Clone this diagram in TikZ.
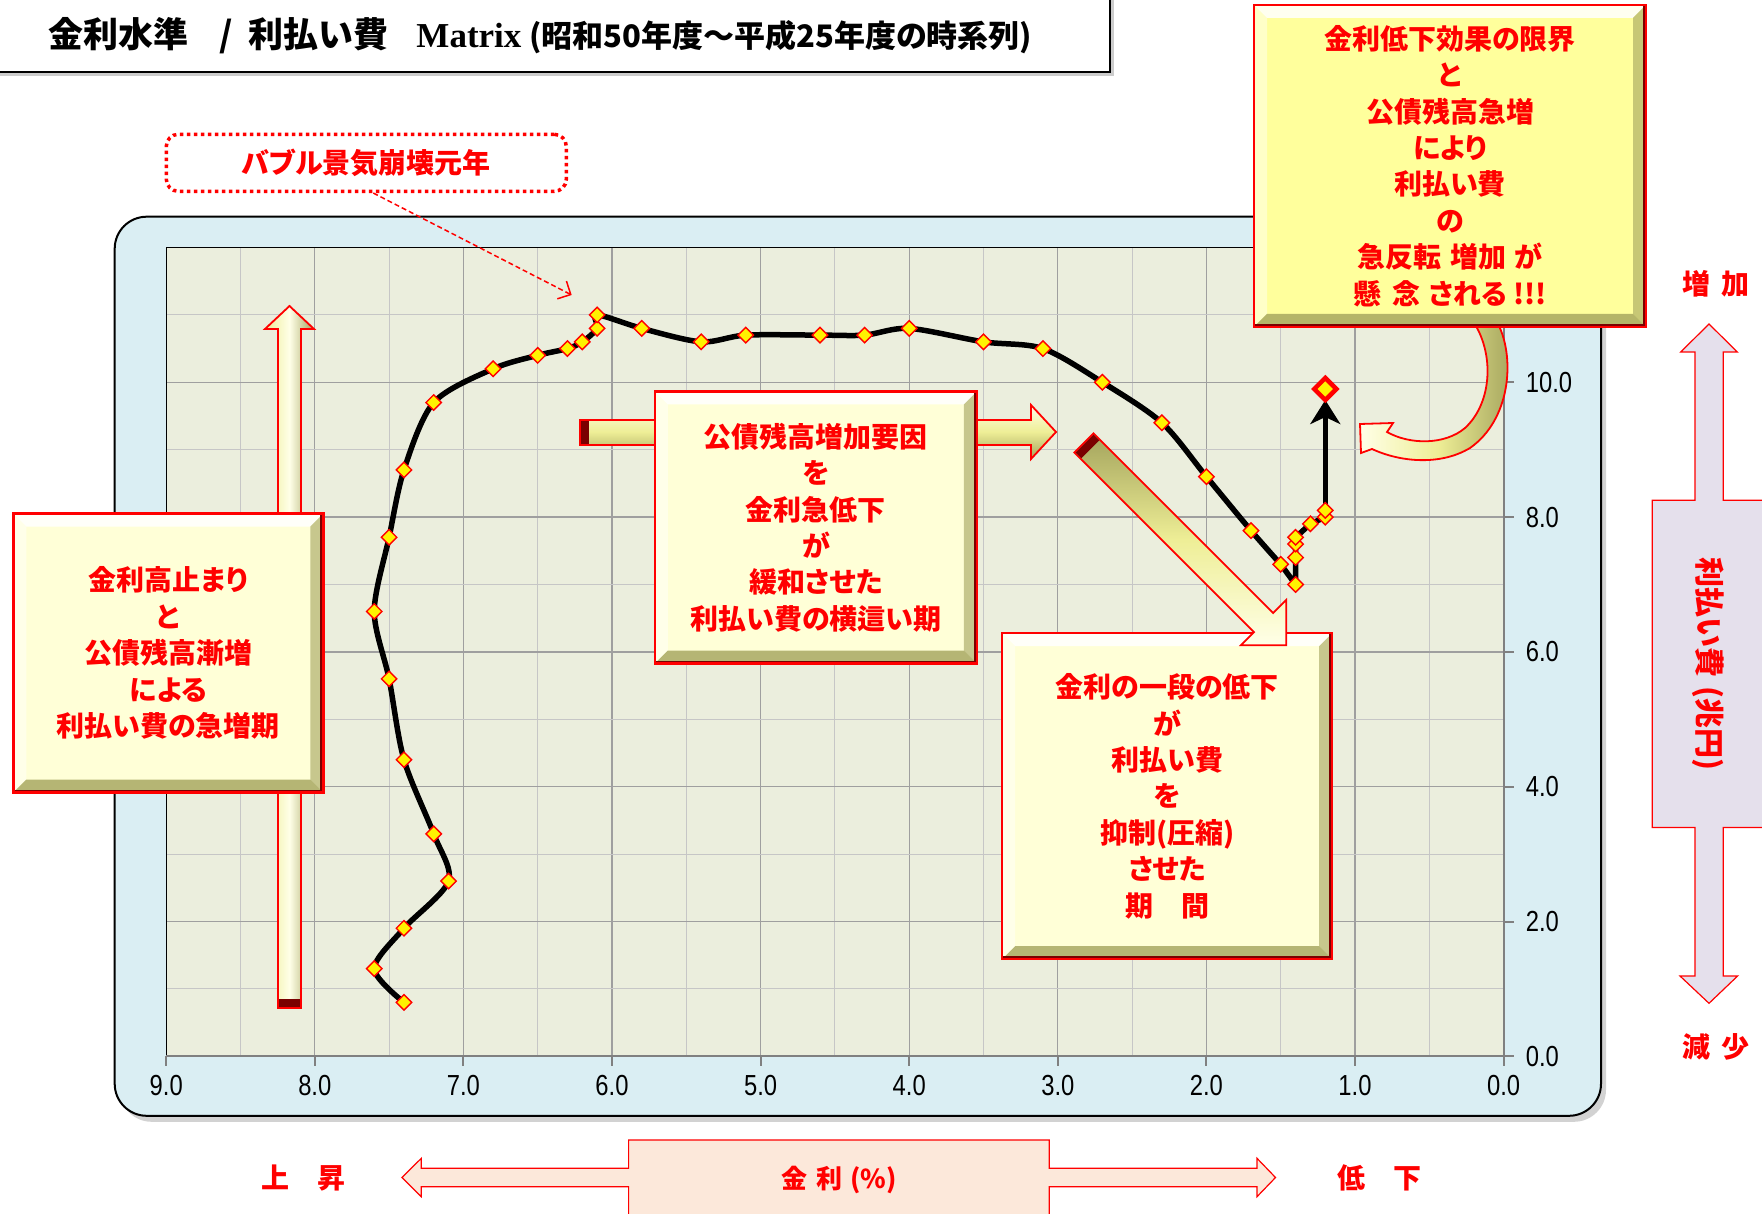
\documentclass[tikz,border=0pt]{standalone}
\usepackage{fontspec}
\usetikzlibrary{shapes.geometric, arrows.meta, shadows}
\newfontfamily\cjk{Noto Sans CJK JP}[RawFeature=+palt]
\newfontfamily\latinserif{Liberation Serif}
\newfontfamily\numfont{Liberation Sans}[FakeStretch=0.82]

\definecolor{panelblue}{HTML}{DAEEF3}
\definecolor{plotbg}{HTML}{EBEEDD}
\definecolor{cream}{HTML}{FFFFD7}
\definecolor{lemon}{HTML}{FFFF9C}
\definecolor{lavender}{HTML}{E5E0EC}
\definecolor{peach}{HTML}{FCE8DA}
\definecolor{olivedark}{HTML}{A3A35C}
\definecolor{arrowlight}{HTML}{FFFFE8}
\definecolor{arrowyel}{HTML}{EEEE96}
\definecolor{maroon}{HTML}{7A0000}

\tikzset{
  bevelbox/.style={draw=red, line width=2.4pt, inner sep=0pt, align=center, text=red,
    font=\cjk\bfseries\fontsize{28pt}{36.4pt}\selectfont,
    path picture={
      \path (path picture bounding box.north west) coordinate (bv1)
            (path picture bounding box.north east) coordinate (bv2)
            (path picture bounding box.south east) coordinate (bv3)
            (path picture bounding box.south west) coordinate (bv4);
      \fill[white, opacity=.85] (bv1) -- (bv2) -- ([shift={(-13pt,-13pt)}]bv2) -- ([shift={(13pt,-13pt)}]bv1) -- cycle;
      \fill[white, opacity=.45] (bv1) -- ([shift={(13pt,-13pt)}]bv1) -- ([shift={(13pt,13pt)}]bv4) -- (bv4) -- cycle;
      \fill[olivedark, opacity=.6] (bv2) -- (bv3) -- ([shift={(-13pt,13pt)}]bv3) -- ([shift={(-13pt,-13pt)}]bv2) -- cycle;
      \fill[olivedark, opacity=.8] (bv4) -- (bv3) -- ([shift={(-13pt,13pt)}]bv3) -- ([shift={(13pt,13pt)}]bv4) -- cycle;
      \draw[maroon, line width=3pt] ([shift={(-1.5pt,0pt)}]bv2) -- ([shift={(-1.5pt,1.5pt)}]bv3) -- ([shift={(0pt,1.5pt)}]bv4);
    }},
  arrowbody/.style={draw=red, line width=1.8pt},
  mk/.style={diamond, draw=red, fill=yellow, line width=1.4pt, inner sep=0pt, minimum size=16pt},
  bigmk/.style={diamond, draw=red, fill=yellow, line width=4.5pt, inner sep=0pt, minimum size=24pt},
  gridminor/.style={gray!45, line width=1.1pt},
  gridmajor/.style={gray!75, line width=1.3pt},
  axisline/.style={gray, line width=2pt},
  numlabel/.style={font=\numfont\fontsize{29pt}{29pt}\selectfont, inner sep=0pt},
  redlabel/.style={text=red, inner sep=0pt, font=\cjk\bfseries\fontsize{28pt}{28pt}\selectfont},
}

\begin{document}
\begin{tikzpicture}[x=1pt, y=-1pt]
  \useasboundingbox (0,0) rectangle (1762,1214);
  \fill[white] (0,0) rectangle (1762,1214);

  % title
  \draw[black, line width=1.5pt, fill=white, drop shadow={shadow xshift=4pt, shadow yshift=-4pt, opacity=.4}] (-4,-4) rectangle (1110,72);
  \node[anchor=west, inner sep=0pt, font=\cjk\bfseries] (title) at (48,36)
    {{\fontsize{35pt}{35pt}\selectfont 金利水準\hspace{0.9em}/\hspace{0.45em}利払い費\hspace{0.8em}{\latinserif Matrix}}\hspace{0.8em}{\fontsize{31pt}{31pt}\selectfont (昭和50年度～平成25年度の時系列)}};

  % chart panel
  \draw[black, line width=2pt, fill=panelblue, rounded corners=32pt,
        drop shadow={shadow xshift=5pt, shadow yshift=-6pt, opacity=.35}] (114.7,216.7) rectangle (1601,1115.8);

  \begin{scope}[shift={(1503.6,1056.3)}, x=-148.6pt, y=67.4pt]
    \fill[plotbg] (0,0) rectangle (9,12);
    \foreach \gx in {0.5,1.5,...,8.5}
      \draw[gridminor] (\gx,0) -- (\gx,12);
    \foreach \gx in {1,...,8}
      \draw[gridmajor] (\gx,0) -- (\gx,12);
    \foreach \gy in {1,3,...,11}
      \draw[gridminor] (0,\gy) -- (9,\gy);
    \foreach \gy in {2,4,...,10}
      \draw[gridmajor] (0,\gy) -- (9,\gy);
    \draw[black, line width=1.2pt] (0,12) -- (9,12) -- (9,0);
    \draw[axisline] (0,12) -- (0,0) -- (9,0);
    \foreach \v in {0,2,...,10} {
      \draw[axisline] (0,\v) -- ++(10pt,0pt);
      \node[numlabel, anchor=west, xshift=22pt] (ylab\v) at (0,\v) {\v.0};
    }
    \foreach \v in {0,...,9} {
      \draw[axisline] (\v,0) -- ++(0pt,-10pt);
      \node[numlabel, yshift=-29pt] (xlab\v) at (\v,0) {\v.0};
    }

    % rate / interest path
    \draw[line width=5.5pt, line join=round, line cap=round]
      plot[smooth, tension=0.5] coordinates {(7.4,0.8) (7.6,1.3) (7.4,1.9) (7.1,2.6) (7.2,3.3) (7.4,4.4)
        (7.5,5.6) (7.6,6.6) (7.5,7.7) (7.4,8.7) (7.2,9.7) (6.8,10.2) (6.5,10.4) (6.3,10.5) (6.2,10.6)
        (6.1,10.8) (6.1,11.0) (5.8,10.8) (5.4,10.6) (5.1,10.7) (4.6,10.7) (4.3,10.7) (4.0,10.8)
        (3.5,10.6) (3.1,10.5) (2.7,10.0) (2.3,9.4) (2.0,8.6) (1.7,7.8) (1.5,7.3)}
      -- (1.4,7.0) -- (1.4,7.4) -- (1.4,7.6) -- (1.4,7.7) -- (1.3,7.9) -- (1.2,8.0) -- (1.2,8.1);
    \coordinate (lastpt) at (1.2,8.1);
    \coordinate (toppt) at (1.2,9.9);
    \draw[line width=5pt, -{Stealth[length=24pt, width=30pt, inset=7pt]}, shorten >=11pt] (lastpt) -- (toppt);
    \foreach \px/\py [count=\i] in {7.4/0.8, 7.6/1.3, 7.4/1.9, 7.1/2.6, 7.2/3.3, 7.4/4.4, 7.5/5.6,
        7.6/6.6, 7.5/7.7, 7.4/8.7, 7.2/9.7, 6.8/10.2, 6.5/10.4, 6.3/10.5, 6.2/10.6, 6.1/10.8,
        6.1/11.0, 5.8/10.8, 5.4/10.6, 5.1/10.7, 4.6/10.7, 4.3/10.7, 4.0/10.8, 3.5/10.6, 3.1/10.5,
        2.7/10.0, 2.3/9.4, 2.0/8.6, 1.7/7.8, 1.5/7.3, 1.4/7.0, 1.4/7.4, 1.4/7.6, 1.4/7.7,
        1.3/7.9, 1.2/8.0, 1.2/8.1}
      \node[mk] (p\i) at (\px,\py) {};
    \node[bigmk] (endmk) at (toppt) {};
  \end{scope}

  % 3D arrows behind the boxes
  \draw[arrowbody, left color=arrowyel, right color=olivedark, middle color=arrowlight]
    (278,1008) -- (278,329) -- (265,329) -- (289.5,306) -- (314,329) -- (301,329) -- (301,1008) -- cycle;
  \fill[maroon] (278.8,999) rectangle (300.2,1007.2);
  \draw[arrowbody, top color=arrowlight, bottom color=olivedark, middle color=arrowyel]
    (580,420) -- (1031,420) -- (1031,405) -- (1056,432) -- (1031,459) -- (1031,445) -- (580,445) -- cycle;
  \fill[maroon] (580.8,420.8) rectangle (589,444.2);
  \draw[arrowbody, left color=arrowlight, right color=olivedark, middle color=arrowyel]
    (1499,326) .. controls (1515,360) and (1510,420) .. (1470,448)
    .. controls (1440,466) and (1400,462) .. (1372,449)
    -- (1361,453) -- (1360,424) -- (1393,423) -- (1387,432)
    .. controls (1410,445) and (1445,445) .. (1465,428)
    .. controls (1490,405) and (1495,360) .. (1476,326) -- cycle;

  % comment boxes
  \node[bevelbox, fill=cream, minimum width=310pt, minimum height=279pt] (risebox) at (168.3,653)
    {金利高止まり\\と\\公債残高漸増\\による\\利払い費の急増期};
  \node[bevelbox, fill=cream, minimum width=322pt, minimum height=272pt] (flatbox) at (815.9,527.5)
    {公債残高増加要因\\を\\金利急低下\\が\\緩和させた\\利払い費の横這い期};
  \node[bevelbox, fill=lemon, minimum width=392pt, minimum height=322pt] (warnbox) at (1450,165.9)
    {金利低下効果の限界\\と\\公債残高急増\\により\\利払い費\\の\\急反転\hspace{0.3em}増加\hspace{0.3em}が\\懸\hspace{0.4em}念\hspace{0.3em}される\hspace{0.2em}!!!};
  \node[bevelbox, fill=cream, minimum width=330pt, minimum height=326pt] (dropbox) at (1167.2,796.2)
    {金利の一段の低下\\が\\利払い費\\を\\抑制(圧縮)\\させた\\期\hspace{1em}間};

  % diagonal arrow over the lower box
  \begin{scope}[shift={(1084,443)}, rotate=-45]
    \draw[arrowbody, top color=olivedark, bottom color=arrowlight, middle color=arrowyel]
      (0,-13.5) -- (254,-13.5) -- (254,-32) -- (286,0) -- (254,32) -- (254,13.5) -- (0,13.5) -- cycle;
    \fill[maroon] (0.9,-12.6) rectangle (9,12.6);
  \end{scope}

  % bubble note
  \node[draw=red, line width=3.5pt, dash pattern=on 3.5pt off 3.5pt, rounded corners=12pt,
        minimum width=400pt, minimum height=57pt, text=red,
        font=\cjk\bfseries\fontsize{28pt}{28pt}\selectfont] (bubble) at (366.3,162.8) {バブル景気崩壊元年};
  \coordinate (bubbletip) at (571.7,295);
  \draw[red, line width=1.5pt, dash pattern=on 5pt off 3pt, -{Straight Barb[length=10pt, width=20pt]}]
    ([xshift=7pt]bubble.south) -- (bubbletip);

  % vertical axis arrow
  \draw[red, line width=1.2pt, fill=lavender]
    (1709,324) -- (1737.3,352) -- (1723.3,352) -- (1723.3,500.3) -- (1766,500.3) -- (1766,827.5)
    -- (1723.3,827.5) -- (1723.3,976) -- (1737.6,976) -- (1709,1003.3) -- (1680,976) -- (1695,976)
    -- (1695,827.5) -- (1652.3,827.5) -- (1652.3,500.3) -- (1695,500.3) -- (1695,352) -- (1680.7,352) -- cycle;
  \node[rotate=-90, text=red, inner sep=0pt, font=\cjk\bfseries\fontsize{30pt}{30pt}\selectfont] (costlab) at (1708,664) {利払い費\hspace{0.3em}(兆円)};
  \node[redlabel] (incr) at (1716,284) {増\hspace{0.4em}加};
  \node[redlabel] (decr) at (1716,1047) {減\hspace{0.4em}少};

  % horizontal axis arrow
  \draw[red, line width=1.2pt, fill=peach]
    (402,1177.5) -- (421.3,1158.3) -- (421.3,1168.3) -- (628.6,1168.3) -- (628.6,1140) -- (1049.3,1140)
    -- (1049.3,1168.3) -- (1257,1168.3) -- (1257,1158.3) -- (1275.5,1177.5) -- (1257,1196.7)
    -- (1257,1186.7) -- (1049.3,1186.7) -- (1049.3,1218) -- (628.6,1218) -- (628.6,1186.7)
    -- (421.3,1186.7) -- (421.3,1196.7) -- cycle;
  \node[redlabel, font=\cjk\bfseries\fontsize{26pt}{26pt}\selectfont] (ratelab) at (839,1180) {金\hspace{.35em}利\hspace{.3em}(\%)};
  \node[redlabel] (rise) at (303,1178) {上\hspace{1em}昇};
  \node[redlabel] (fall) at (1379,1178) {低\hspace{1em}下};
\end{tikzpicture}
\end{document}
